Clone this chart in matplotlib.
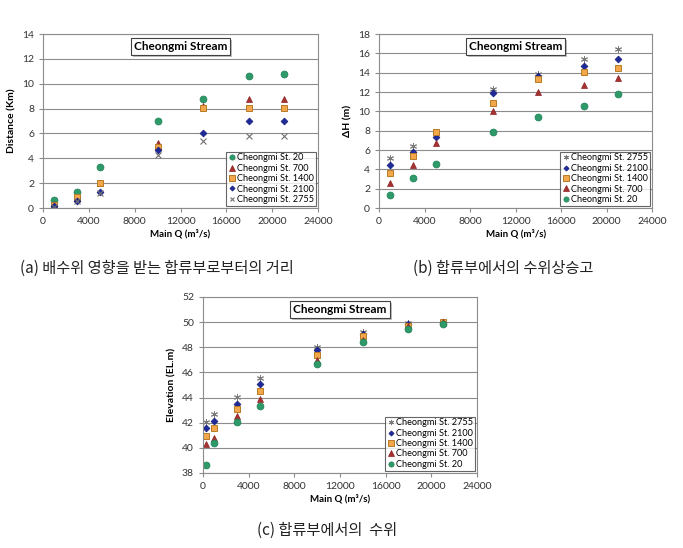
import matplotlib
matplotlib.use("Agg")
import matplotlib.pyplot as plt
import matplotlib.patheffects as pe

plt.rcParams['font.family'] = ['Lato', 'DejaVu Sans']

# discharge (m3/s)
q_ab = [1000, 3000, 5000, 10000, 14000, 18000, 21000]
q_c = [300, 1000, 3000, 5000, 10000, 14000, 18000, 21000]

stations = ["Cheongmi St. 20", "Cheongmi St. 700", "Cheongmi St. 1400",
            "Cheongmi St. 2100", "Cheongmi St. 2755"]

# (a) distance from confluence (Km)
dist_20 = [0.67, 1.26, 3.27, 7.0, 8.78, 10.6, 10.81]
dist_700 = [0.3, 0.8, 2.0, 5.2, 8.2, 8.78, 8.78]
dist_1400 = [0.25, 0.86, 2.05, 4.87, 8.05, 8.05, 8.05]
dist_2100 = [0.15, 0.6, 1.25, 4.63, 6.02, 7.0, 7.0]
dist_2755 = [0.1, 0.55, 1.2, 4.25, 5.4, 5.8, 5.8]

# (b) stage rise dH (m)
dh_20 = [1.38, 3.1, 4.58, 7.85, 9.4, 10.53, 11.84]
dh_700 = [2.55, 4.44, 6.71, 10.01, 11.98, 12.73, 13.45]
dh_1400 = [3.61, 5.4, 7.88, 10.87, 13.35, 14.04, 14.52]
dh_2100 = [4.47, 5.82, 7.36, 11.94, 13.66, 14.69, 15.42]
dh_2755 = [5.2, 6.4, 7.9, 12.28, 13.87, 15.42, 16.45]

# (c) water level (EL.m)
el_20 = [38.63, 40.41, 42.08, 43.33, 46.67, 48.39, 49.48, 49.85]
el_700 = [40.33, 40.81, 42.56, 43.89, 47.01, 48.6, 49.67, 49.98]
el_1400 = [40.92, 41.6, 43.09, 44.52, 47.38, 48.87, 49.72, 49.98]
el_2100 = [41.6, 42.16, 43.49, 45.08, 47.76, 49.06, 49.83, 50.0]
el_2755 = [42.08, 42.67, 44.02, 45.56, 48.0, 49.21, 49.9, 50.04]

styles = [
    dict(marker='o', color='#2e9a6a', markersize=5, markeredgecolor='#1f7f55', markeredgewidth=0.5),
    dict(marker='^', color='#a83232', markersize=5, markeredgecolor='#8a2020', markeredgewidth=0.5),
    dict(marker='s', color='#f2a84a', markersize=5, markeredgecolor='#b87a25', markeredgewidth=0.7),
    dict(marker='D', color='#1e2a9a', markersize=3.5, markeredgecolor='#141c7a', markeredgewidth=0.5),
    dict(marker='x', color='#707070', markersize=4.5, markeredgewidth=0.8),
]
asterisk = dict(marker=(6, 2, 0), color='#7a7a7a', markersize=5, markeredgewidth=0.7)


def style_axes(ax, ylim, yticks, ylabel):
    ax.set_xlim(0, 24000)
    ax.set_xticks(range(0, 24001, 4000))
    ax.set_ylim(*ylim)
    ax.set_yticks(yticks)
    ax.grid(axis='y', color='#8c8c8c', linewidth=0.8)
    ax.set_axisbelow(True)
    for s in ax.spines.values():
        s.set_color('#8c8c8c')
        s.set_linewidth(0.8)
    ax.tick_params(labelsize=7.5, colors='#8c8c8c', labelcolor='#333333',
                   length=3, width=0.8)
    ax.set_xlabel("Main Q (m\u00b3/s)", fontsize=7, fontweight='bold', labelpad=2)
    ax.set_ylabel(ylabel, fontsize=7.5, fontweight='bold', labelpad=4)
    t = ax.text(0.5, 0.93, "Cheongmi Stream", transform=ax.transAxes,
                ha='center', va='center', fontsize=8.5, fontweight='bold',
                bbox=dict(boxstyle='square,pad=0.25', facecolor='white',
                          edgecolor='#404040', linewidth=0.8))
    t.get_bbox_patch().set_path_effects(
        [pe.withSimplePatchShadow(offset=(1.5, -1.5), alpha=0.35)])


def add_legend(ax):
    leg = ax.legend(loc='lower right', fontsize=6.6, frameon=True, fancybox=False,
                    borderpad=0.2, labelspacing=0.15, handletextpad=0.1,
                    handlelength=0.9, borderaxespad=0.25, markerscale=0.75)
    leg.get_frame().set_edgecolor('#404040')
    leg.get_frame().set_linewidth(0.8)


fig = plt.figure(figsize=(6.83, 5.48), dpi=100)

# (a)
ax1 = fig.add_axes([0.063, 0.6204, 0.4026, 0.3175])
for vals, lab, st in zip([dist_20, dist_700, dist_1400, dist_2100, dist_2755], stations, styles):
    ax1.plot(q_ab, vals, linestyle='none', label=lab, **st)
style_axes(ax1, (0, 14), range(0, 15, 2), "Distance (Km)")
add_legend(ax1)

# (b)
ax2 = fig.add_axes([0.555, 0.6204, 0.3997, 0.3175])
st_b = styles[:4] + [asterisk]
for vals, lab, st in reversed(list(zip([dh_20, dh_700, dh_1400, dh_2100, dh_2755], stations, st_b))):
    ax2.plot(q_ab, vals, linestyle='none', label=lab, **st)
style_axes(ax2, (0, 18), range(0, 19, 2), "\u0394H (m)")
add_legend(ax2)

# (c)
ax3 = fig.add_axes([0.2972, 0.1369, 0.401, 0.3212])
for vals, lab, st in reversed(list(zip([el_20, el_700, el_1400, el_2100, el_2755], stations, st_b))):
    ax3.plot(q_c, vals, linestyle='none', label=lab, **st)
style_axes(ax3, (38, 52), range(38, 53, 2), "Elevation (EL.m)")
add_legend(ax3)

kfont = ['Noto Sans CJK KR', 'DejaVu Sans']
fig.text(20 / 683, 1 - 268 / 548, "(a) 배수위 영향을 받는 합류부로부터의 거리",
         fontsize=11, family=kfont, va='center', ha='left', color='#222222')
fig.text(413 / 683, 1 - 268 / 548, "(b) 합류부에서의 수위상승고",
         fontsize=11, family=kfont, va='center', ha='left', color='#222222')
fig.text(257 / 683, 1 - 530 / 548, "(c) 합류부에서의  수위",
         fontsize=11, family=kfont, va='center', ha='left', color='#222222')

fig.savefig("out.png", dpi=100)
